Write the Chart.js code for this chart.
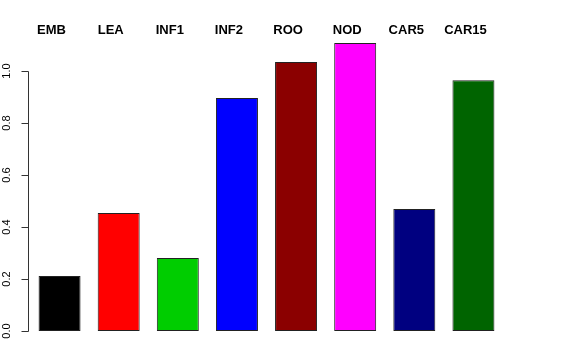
<!DOCTYPE html>
<html>
<head>
<meta charset="utf-8">
<script src="https://cdn.jsdelivr.net/npm/chart.js@4"></script>
<style>
    html, body { margin: 0; padding: 0; background: #fff; }
    canvas { display: block; }
</style>
</head>
<body>
<canvas id="chart" width="576" height="360"></canvas>
<script>
const tissues = ['EMB', 'LEA', 'INF1', 'INF2', 'ROO', 'NOD', 'CAR5', 'CAR15'];
const values = [0.212, 0.454, 0.281, 0.896, 1.035, 1.108, 0.469, 0.964];
const barColors = ['#000000', '#FF0000', '#00CD00', '#0000FF', '#8B0000', '#FF00FF', '#000080', '#006400'];
const yTicks = [0, 0.2, 0.4, 0.6, 0.8, 1.0];

// R style axis on the left plus the tissue names across the top
const rAxisPlugin = {
    id: 'rAxis',
    afterDraw(chart) {
        const ctx = chart.ctx;
        const y = chart.scales.y;
        const x = chart.scales.x;
        const axisX = 28.5;

        ctx.save();
        ctx.strokeStyle = '#333';
        ctx.lineWidth = 1;
        ctx.beginPath();
        ctx.moveTo(axisX, Math.round(y.getPixelForValue(yTicks[0])) + 0.5);
        ctx.lineTo(axisX, Math.round(y.getPixelForValue(yTicks[yTicks.length - 1])) + 0.5);
        for (const t of yTicks) {
            const py = Math.round(y.getPixelForValue(t)) + 0.5;
            ctx.moveTo(axisX, py);
            ctx.lineTo(axisX - 7, py);
        }
        ctx.stroke();

        ctx.fillStyle = '#000';
        ctx.font = '11px "Liberation Sans", Arial, sans-serif';
        ctx.textAlign = 'center';
        ctx.textBaseline = 'middle';
        for (const t of yTicks) {
            const py = y.getPixelForValue(t);
            ctx.save();
            ctx.translate(7, py);
            ctx.rotate(-Math.PI / 2);
            ctx.fillText(t.toFixed(1), 0, 0);
            ctx.restore();
        }

        ctx.font = 'bold 13px "Liberation Sans", Arial, sans-serif';
        tissues.forEach((name, i) => {
            ctx.fillText(name, x.getPixelForValue(i) - 8, 30);
        });
        ctx.restore();
    }
};

const ctx = document.getElementById('chart');

new Chart(ctx, {
    type: 'bar',
    data: {
        labels: tissues,
        datasets: [
            {
                data: values,
                backgroundColor: barColors,
                borderColor: '#222',
                borderWidth: 1,
                borderSkipped: false,
                barPercentage: 0.71,
                categoryPercentage: 1
            }
        ]
    },
    options: {
        responsive: false,
        animation: false,
        layout: {
            padding: { left: 30, right: 73, top: 32, bottom: 29 }
        },
        plugins: {
            legend: { display: false },
            tooltip: { enabled: false }
        },
        scales: {
            x: { display: false },
            y: { display: false, min: 0, max: 1.15 }
        }
    },
    plugins: [rAxisPlugin]
});
</script>
</body>
</html>
